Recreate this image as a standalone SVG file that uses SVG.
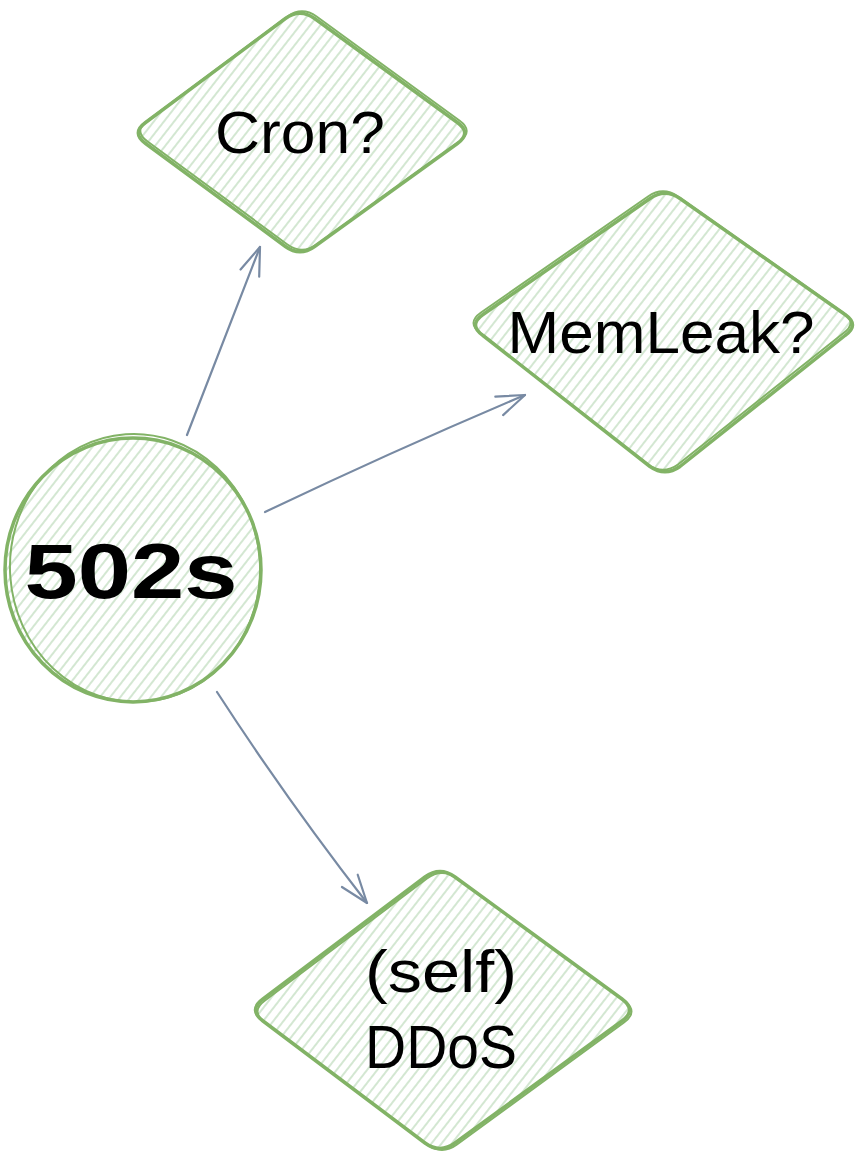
<svg xmlns="http://www.w3.org/2000/svg" width="864" height="1166" viewBox="0 0 864 1166">
  <defs>
    <pattern id="hachure" width="8" height="8" patternUnits="userSpaceOnUse" patternTransform="rotate(38)">
      <line x1="4" y1="0" x2="4" y2="8" stroke="#cfe5cd" stroke-width="1.8"/>
    </pattern>
    <marker id="arrow" viewBox="0 0 32 24" refX="30" refY="12" markerWidth="32" markerHeight="24" markerUnits="userSpaceOnUse" orient="auto">
      <path d="M2,2 L30,12 L2,22" fill="none" stroke="#788aa3" stroke-width="2.2" stroke-linecap="round" stroke-linejoin="round"/>
    </marker>
  </defs>
  <style>
    .shape { fill: url(#hachure); stroke: #82b366; stroke-width: 3.5; stroke-linejoin: round; }
    .sketch { fill: none; stroke: #82b366; stroke-width: 2; stroke-linejoin: round; }
    .label { font-family: "Liberation Sans", "DejaVu Sans", sans-serif; fill: #000000; text-anchor: middle; }
    .conn { fill: none; stroke: #788aa3; stroke-width: 2.2; stroke-linecap: round; }
  </style>
  <rect width="864" height="1166" fill="#ffffff"/>

  <g id="connectors">
    <path class="conn" d="M187,435 Q222,345 260,247" marker-end="url(#arrow)"/>
    <path class="conn" d="M265,512 Q395,450 525,395" marker-end="url(#arrow)"/>
    <path class="conn" d="M217,692 Q287,800 367,903" marker-end="url(#arrow)"/>
  </g>

  <g id="node-cron">
    <path class="shape" d="M285.4,18.5 Q300,8 314.6,18.5 L457.4,122.5 Q472,133 457.4,143.5 L314.6,246.5 Q300,257 285.4,246.5 L145.6,143.5 Q131,133 145.6,122.5 Z"/>
    <path class="sketch" transform="translate(2,-2)" d="M285.4,18.5 Q300,8 314.6,18.5 L457.4,122.5 Q472,133 457.4,143.5 L314.6,246.5 Q300,257 285.4,246.5 L145.6,143.5 Q131,133 145.6,122.5 Z"/>
    <text class="label" x="300" y="153" font-size="60" textLength="170" lengthAdjust="spacingAndGlyphs">Cron?</text>
  </g>

  <g id="node-memleak">
    <path class="shape" d="M650,198.5 Q665,188 680,198.5 L845,314.5 Q860,325 845,335.5 L680,466.5 Q665,477 650,466.5 L483,335.5 Q468,325 483,314.5 Z"/>
    <path class="sketch" transform="translate(-2,-2)" d="M650,198.5 Q665,188 680,198.5 L845,314.5 Q860,325 845,335.5 L680,466.5 Q665,477 650,466.5 L483,335.5 Q468,325 483,314.5 Z"/>
    <text class="label" x="661" y="353" font-size="60" textLength="307" lengthAdjust="spacingAndGlyphs">MemLeak?</text>
  </g>

  <g id="node-502s">
    <ellipse class="shape" cx="133" cy="570" rx="128" ry="132"/>
    <ellipse class="sketch" cx="135" cy="568" rx="125" ry="134" transform="rotate(-4 135 568)"/>
    <text class="label" x="131" y="598" font-size="78" font-weight="bold" textLength="213" lengthAdjust="spacingAndGlyphs">502s</text>
  </g>

  <g id="node-ddos">
    <path class="shape" d="M425,877 Q440,866 455,877 L622,999 Q637,1010 622,1021 L455,1143 Q440,1154 425,1143 L263,1021 Q248,1010 263,999 Z"/>
    <path class="sketch" transform="translate(2,1.5)" d="M425,877 Q440,866 455,877 L622,999 Q637,1010 622,1021 L455,1143 Q440,1154 425,1143 L263,1021 Q248,1010 263,999 Z"/>
    <text class="label" x="441" y="992" font-size="60" textLength="152" lengthAdjust="spacingAndGlyphs">(self)</text>
    <text class="label" x="441" y="1068" font-size="62" textLength="152" lengthAdjust="spacingAndGlyphs">DDoS</text>
  </g>
</svg>
